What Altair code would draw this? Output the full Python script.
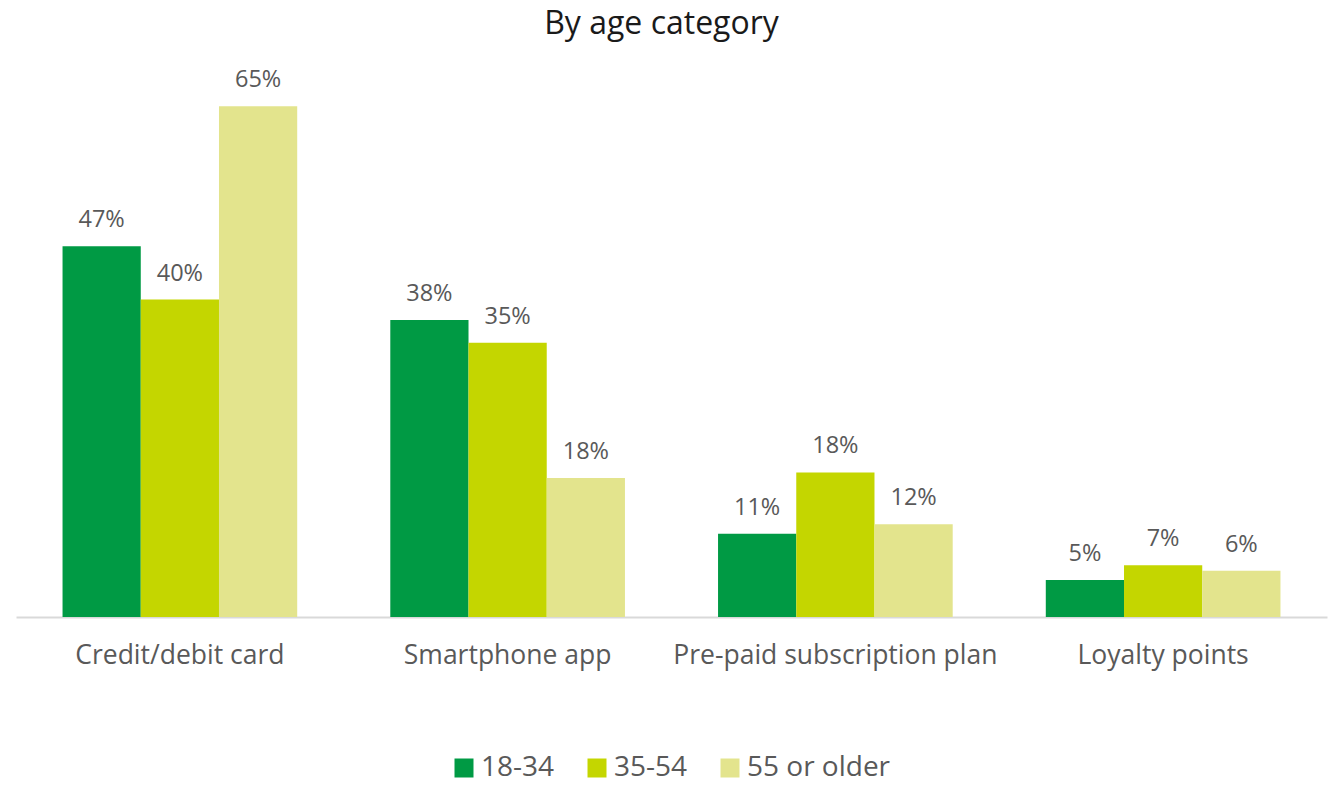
import altair as alt
import pandas as pd

categories = ["Credit/debit card", "Smartphone app", "Pre-paid subscription plan", "Loyalty points"]
groups = ["18-34", "35-54", "55 or older"]
values_18_34 = [47.2, 37.8, 10.6, 4.7]
values_35_54 = [40.4, 34.9, 18.4, 6.6]
values_55_plus = [65.0, 17.7, 11.8, 5.9]
labels_18_34 = ["47%", "38%", "11%", "5%"]
labels_35_54 = ["40%", "35%", "18%", "7%"]
labels_55_plus = ["65%", "18%", "12%", "6%"]
colors = ["#009A44", "#C4D600", "#E3E48D"]

rows = []
for grp, vals, labs in zip(groups,
                           [values_18_34, values_35_54, values_55_plus],
                           [labels_18_34, labels_35_54, labels_55_plus]):
    for cat, v, lab in zip(categories, vals, labs):
        rows.append({"category": cat, "group": grp, "value": v, "label": lab})
df = pd.DataFrame(rows)

FONT = "Open Sans"
x = alt.X("category:N", sort=categories, title=None,
          scale=alt.Scale(paddingInner=0.284, paddingOuter=0.142),
          axis=alt.Axis(labelAngle=0, labelFontSize=26.5, labelColor="#595959", labelFont=FONT,
                        labelPadding=25, labelLimit=0, ticks=False, grid=False,
                        domainColor="#d9d9d9", domainWidth=2))
xoff = alt.XOffset("group:N", sort=groups, scale=alt.Scale(paddingInner=0, paddingOuter=0))
y = alt.Y("value:Q", scale=alt.Scale(domain=[0, 70]), axis=None)

bars = alt.Chart(df).mark_bar().encode(
    x=x, xOffset=xoff, y=y,
    color=alt.Color("group:N", sort=groups,
                    scale=alt.Scale(domain=groups, range=colors),
                    legend=alt.Legend(title=None, orient="none", legendX=434, legendY=687,
                                      direction="horizontal", symbolType="square",
                                      symbolSize=361, symbolStrokeWidth=0,
                                      labelFontSize=28, labelFont=FONT, labelColor="#595959",
                                      labelLimit=0, labelOffset=3, columnPadding=28)),
)

labels = alt.Chart(df).mark_text(baseline="alphabetic", dy=-19, fontSize=23.5, font=FONT,
                                 color="#595959").encode(
    x=x, xOffset=xoff, y=y, text="label:N"
)

chart = (bars + labels).properties(
    width=1311, height=550,
    title=alt.TitleParams("By age category", fontSize=32, font=FONT, fontWeight="normal",
                          color="#1a1a1a", anchor="middle", offset=26, dx=-10),
    autosize=alt.AutoSizeParams(type="none"),
    padding={"left": 16, "top": 67, "right": 1, "bottom": 169},
).configure_view(stroke=None)

chart.save("out.html", embed_options={"renderer": "svg", "actions": False})
